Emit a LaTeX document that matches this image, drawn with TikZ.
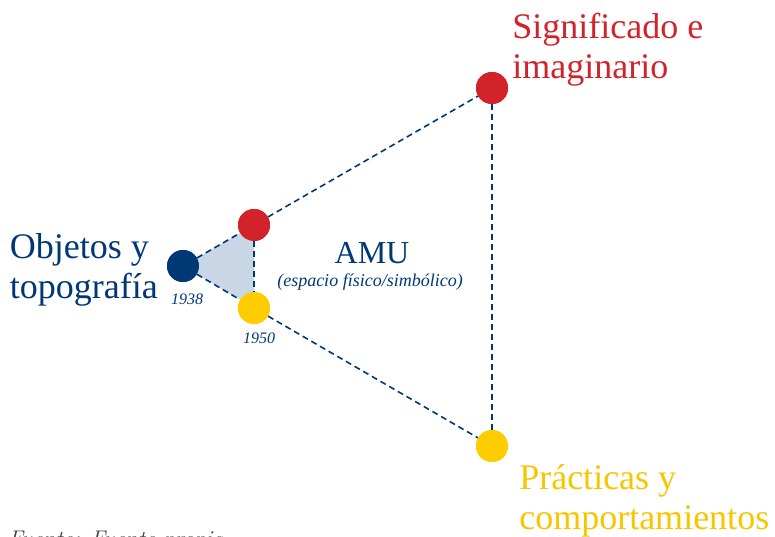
\documentclass[tikz,border=0pt]{standalone}
\usepackage{fontspec}
\setmainfont{Liberation Serif}
\newfontfamily\lmfont{Latin Modern Roman}
\usepackage{xcolor}
\definecolor{amublue}{HTML}{003876}
\definecolor{amured}{HTML}{D2232A}
\definecolor{amuyellow}{HTML}{FFCC00}
\definecolor{amuyellowtext}{HTML}{F7C600}
\definecolor{amushade}{HTML}{C9D6E6}

\tikzset{
	dot/.style={circle, inner sep=0pt, minimum size=24, draw=none},
	link/.style={color=amublue, line width=1.2pt, dash pattern=on 4.5pt off 3pt},
	bigtext/.style={font=\fontsize{27}{30}\selectfont, align=left, inner sep=0pt},
	yeartext/.style={font=\fontsize{12}{14}\selectfont\itshape, color=amublue, inner sep=0pt}
}

\begin{document}
\begin{tikzpicture}[x=0.75pt, y=0.75pt]
		\useasboundingbox (0,0) rectangle (775,536);
		% puntos del triangulo pequeno
		\node[dot, fill=amublue] (obj) at (183,270) {};
		\node[dot, fill=amured] (sig1) at (254,311) {};
		\node[dot, fill=amuyellow] (pra1) at (254,228) {};
		% puntos del triangulo grande
		\node[dot, fill=amured] (sig2) at (492,448) {};
		\node[dot, fill=amuyellow] (pra2) at (492,90) {};
		% area sombreada
		\fill[amushade] (obj.center) -- (sig1.center) -- (pra1.center) -- cycle;
		\draw[link] (obj) -- (sig1);
		\draw[link] (obj) -- (pra1);
		\draw[link] (sig1) -- (pra1);
		\draw[link] (sig1) -- (sig2);
		\draw[link] (pra1) -- (pra2);
		\draw[link] (sig2) -- (pra2);
		% se repiten los puntos encima de las lineas
		\node[dot, fill=amublue] at (obj) {};
		\node[dot, fill=amured] at (sig1) {};
		\node[dot, fill=amuyellow] at (pra1) {};
		\node[dot, fill=amured] at (sig2) {};
		\node[dot, fill=amuyellow] at (pra2) {};
		% textos
		\node[bigtext, color=amublue, anchor=east] (objtext) at (158,266) {Objetos y\\topografía};
		\node[bigtext, color=amured, anchor=south west] (sigtext) at (512,449) {Significado e\\imaginario};
		\node[bigtext, color=amuyellowtext, anchor=north west] (pratext) at (519,72) {Prácticas y\\comportamientos};
		\node[yeartext] (y1938) at (187,237) {1938};
		\node[yeartext] (y1950) at (259,198) {1950};
		\node[color=amublue, inner sep=0pt, font=\fontsize{24}{28}\selectfont] (amu) at (372,283) {AMU};
		\node[color=amublue, inner sep=0pt, font=\fontsize{13.5}{16}\selectfont\itshape] (amusub) at (370,254) {(espacio físico/simbólico)};
		\node[anchor=base west, inner sep=0pt, color=black!75, font=\lmfont\fontsize{17}{20}\selectfont\itshape] (fuente) at (8,-10) {Fuente: Fuente propia};
\end{tikzpicture}
\end{document}
